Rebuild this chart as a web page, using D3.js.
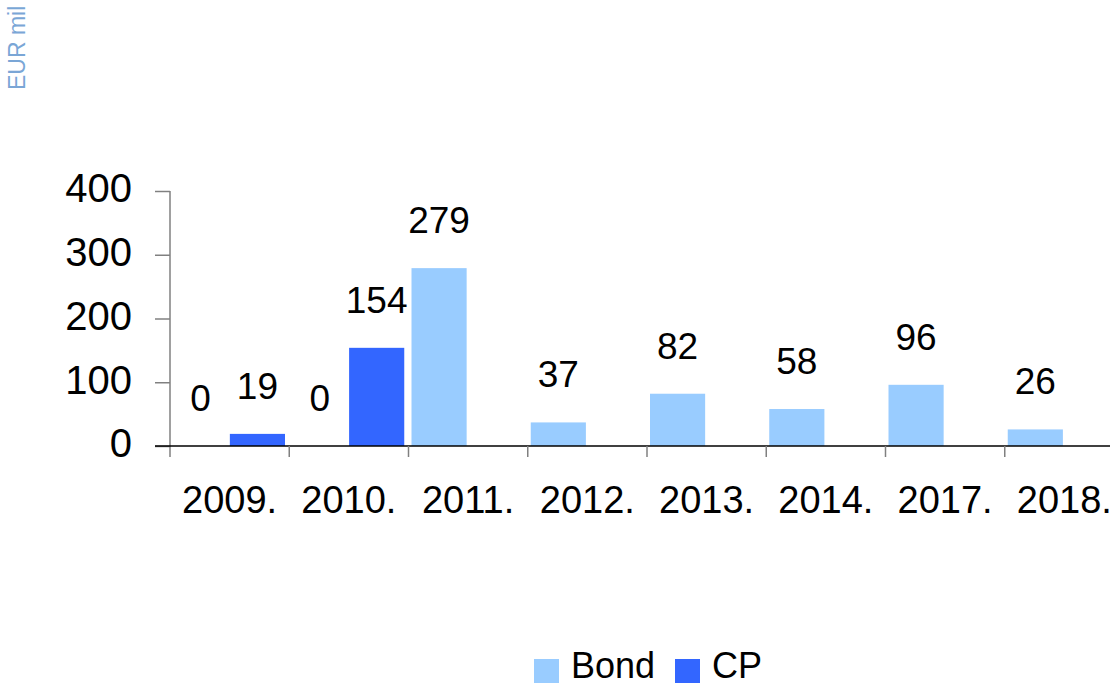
<!DOCTYPE html>
<html lang="en">
<head>
  <meta charset="UTF-8">
  <title>Bond and CP issuance</title>
  <script src="https://cdn.jsdelivr.net/npm/d3@7.9.0/dist/d3.min.js"></script>
  <style>
    html, body { margin: 0; padding: 0; background: #fff; }
    svg { display: block; font-family: "Liberation Sans", Arial, sans-serif; }
  </style>
</head>
<body>
  <div id="chart"></div>
  <script>
    // data (EUR mil)
    const years  = ["2009.", "2010.", "2011.", "2012.", "2013.", "2014.", "2017.", "2018."];
    const series = ["Bond", "CP"];
    const bond   = [0, 0, 279, 37, 82, 58, 96, 26];
    const cp     = [19, 154, null, null, null, null, null, null];
    const yTicks = [0, 100, 200, 300, 400];
    const colors = { Bond: "#99ccff", CP: "#3366ff" };

    const width = 1110, height = 695;
    const svg = d3.select("#chart").append("svg")
      .attr("width", width)
      .attr("height", height);

    const x0 = d3.scaleBand().domain(years).range([170, 1124]).padding(0);
    const x1 = d3.scaleBand().domain(series).range([3, 115]).paddingInner(0.03);
    const y  = d3.scaleLinear().domain([0, 400]).range([446, 191]);

    const rows = years.map((yr, i) => ({ year: yr, Bond: bond[i], CP: cp[i] }));

    // unit label
    svg.append("text")
      .attr("transform", "translate(25,90) rotate(-90)")
      .attr("fill", "#7aa6d6")
      .style("font-size", "23px")
      .text("EUR mil");

    // y axis
    const yAxis = svg.append("g")
      .attr("transform", "translate(170,0)")
      .call(d3.axisLeft(y).tickValues(yTicks).tickSize(15).tickPadding(23));
    yAxis.select(".domain").attr("stroke", "#808080").attr("stroke-width", 1.5)
      .attr("d", `M0,${y(400)}V457`);
    yAxis.selectAll(".tick line").attr("stroke", "#808080").attr("stroke-width", 1.5);
    yAxis.selectAll(".tick text")
      .attr("fill", "#000")
      .style("font-size", "40px")
      .attr("dy", "0.27em");

    // bars
    const groups = svg.append("g").selectAll("g")
      .data(rows)
      .join("g")
      .attr("transform", d => `translate(${x0(d.year)},0)`);

    const cells = d => series
      .filter(s => d[s] !== null)
      .map(s => ({ key: s, value: d[s] }));

    groups.selectAll("rect")
      .data(cells)
      .join("rect")
      .attr("x", d => x1(d.key))
      .attr("y", d => y(d.value))
      .attr("width", x1.bandwidth())
      .attr("height", d => y(0) - y(d.value))
      .attr("fill", d => colors[d.key]);

    groups.selectAll("text")
      .data(cells)
      .join("text")
      .attr("x", d => x1(d.key) + x1.bandwidth() / 2)
      .attr("y", d => y(d.value) - 35)
      .attr("text-anchor", "middle")
      .style("font-size", "37px")
      .text(d => d.value);

    // x axis: black baseline, grey ticks at category boundaries
    svg.append("line")
      .attr("x1", 155).attr("x2", width)
      .attr("y1", y(0)).attr("y2", y(0))
      .attr("stroke", "#000").attr("stroke-width", 1.5);

    svg.append("g").selectAll("line")
      .data(years.slice(1))
      .join("line")
      .attr("x1", d => x0(d)).attr("x2", d => x0(d))
      .attr("y1", y(0)).attr("y2", y(0) + 11)
      .attr("stroke", "#808080").attr("stroke-width", 1.5);

    svg.append("g").selectAll("text")
      .data(years)
      .join("text")
      .attr("x", d => x0(d) + x0.bandwidth() / 2)
      .attr("y", 513)
      .attr("text-anchor", "middle")
      .style("font-size", "38px")
      .text(d => d);

    // legend
    const legend = svg.append("g").selectAll("g")
      .data([{ key: "Bond", x: 534 }, { key: "CP", x: 675 }])
      .join("g")
      .attr("transform", d => `translate(${d.x},659)`);
    legend.append("rect")
      .attr("width", 25).attr("height", 24)
      .attr("fill", d => colors[d.key]);
    legend.append("text")
      .attr("x", 37).attr("y", 19)
      .style("font-size", "36px")
      .text(d => d.key);
  </script>
</body>
</html>
